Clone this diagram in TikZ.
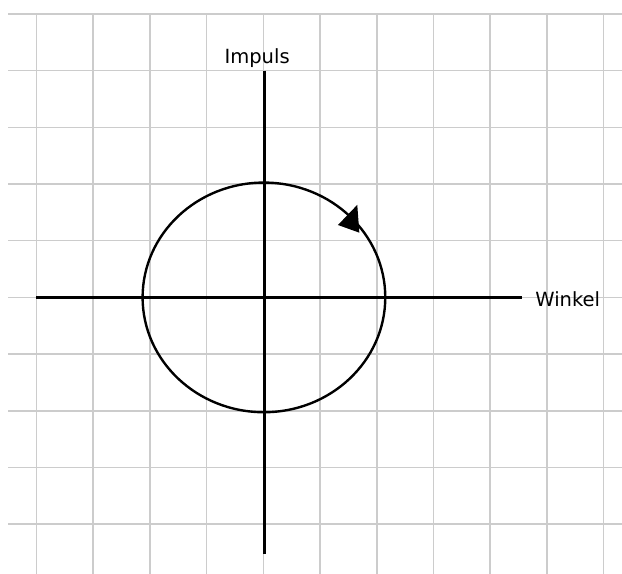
\documentclass[tikz,border=0pt]{standalone}
\usepackage{fontspec}
\setmainfont{DejaVu Sans}
\usetikzlibrary{decorations.markings}

\begin{document}
\begin{tikzpicture}[
        x=0.5cm, y=0.5cm,
        gridline/.style={draw=black!20, line width=0.8pt},
        axis/.style={draw=black, line width=1.4pt},
        orbit/.style={draw=black, line width=1.2pt,
                      postaction={decorate, decoration={markings,
                        mark=at position 0.118 with {\fill[rotate=-64.6]
                          (0.52,0) -- (-0.38,0.4) -- (-0.38,-0.4) -- cycle;}}}},
        lbl/.style={font=\fontsize{9.8}{12}\selectfont, inner sep=0pt},
    ]
        \useasboundingbox (-9.29,-9.75) rectangle (12.65,10.49);
        \draw[gridline] (-9,-9.75) grid (12.65,10);
        % axes
        \coordinate (wl) at (-8.02,0);
        \coordinate (wr) at (9.11,0);
        \coordinate (it) at (0.03,8);
        \coordinate (ib) at (0.03,-9.06);
        \draw[axis] (wl) -- (wr);
        \draw[axis] (it) -- (ib);
        \node[lbl, anchor=base west] (winkel) at (9.58,-0.32) {Winkel};
        \node[lbl, anchor=base] (impuls) at (-0.22,8.26) {Impuls};
        % phase orbit
        \draw[orbit] (0.02,0) ellipse [x radius=4.28, y radius=4.05];
    \end{tikzpicture}
\end{document}
